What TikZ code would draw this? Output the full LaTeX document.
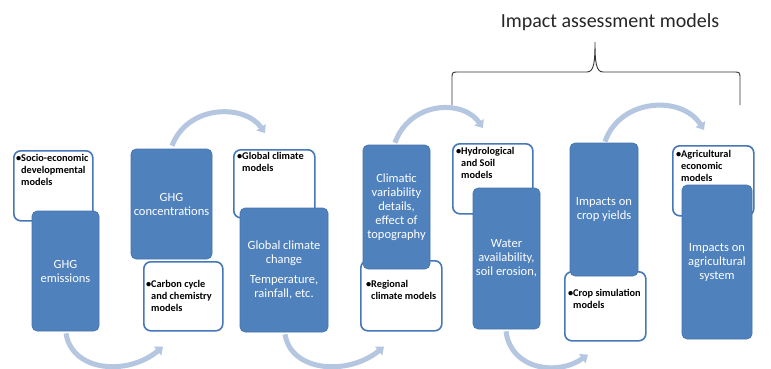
\documentclass[tikz,border=0pt]{standalone}
\usepackage{fontspec}
\setmainfont{Carlito}
\usetikzlibrary{arrows.meta}
\definecolor{boxblue}{HTML}{4F81BD}
\definecolor{edgeblue}{HTML}{4677B8}
\definecolor{arrowblue}{HTML}{B4C6E0}
\begin{document}
\begin{tikzpicture}[x=1pt,y=-1pt,
  bluebox/.style={rectangle, fill=boxblue, draw=boxblue!90!black, line width=0.6pt, rounded corners=5pt, inner sep=0pt, text=white, align=center, font=\fontsize{12.5}{14}\selectfont},
  whitebox/.style={rectangle, fill=white, draw=edgeblue, line width=1.6pt, rounded corners=7pt, inner sep=0pt, anchor=north west},
  wtext/.style={inner sep=0pt, anchor=north west, align=left, font=\bfseries\fontsize{10.3}{11.7}\selectfont, text=black},
  flowarrow/.style={draw=arrowblue, line width=5pt, -{Triangle[length=7pt,width=11pt]}},
  bracestyle/.style={draw=black!80, line width=0.9pt}
]
\useasboundingbox (0,0) rectangle (771,368);
\fill[white] (0,0) rectangle (771,368);

% white model boxes
\node[whitebox, minimum width=79pt, minimum height=70pt] (socio) at (13,150) {};
\node[whitebox, minimum width=79pt, minimum height=69pt] (carbon) at (143,261) {};
\node[whitebox, minimum width=81pt, minimum height=68pt] (gcm) at (233,149) {};
\node[whitebox, minimum width=81pt, minimum height=70pt] (rcm) at (360,260) {};
\node[whitebox, minimum width=80pt, minimum height=70pt] (hydro) at (452,143) {};
\node[whitebox, minimum width=81pt, minimum height=69pt] (crop) at (564,271) {};
\node[whitebox, minimum width=81pt, minimum height=70pt] (agecon) at (672,145) {};

% blue boxes
\node[bluebox, minimum width=67pt, minimum height=120pt] (emis) at (65.5,271) {GHG\\emissions};
\node[bluebox, minimum width=81pt, minimum height=110pt] (conc) at (171.5,204) {GHG\\concentrations};
\node[bluebox, minimum width=88pt, minimum height=124pt] (gcc) at (284,270) {Global climate\\change\\[6pt]Temperature,\\rainfall, etc.};
\node[bluebox, minimum width=67pt, minimum height=124pt] (clim) at (396.5,207) {Climatic\\variability\\details,\\effect of\\topography};
\node[bluebox, minimum width=67pt, minimum height=141pt] (water) at (506.5,258.5) {Water\\availability,\\soil erosion,};
\node[bluebox, minimum width=68pt, minimum height=133pt] (yield) at (604,209.5) {Impacts on\\crop yields};
\node[bluebox, minimum width=70pt, minimum height=154pt] (agsys) at (717,262) {Impacts on\\agricultural\\system};

% model texts
\node[wtext] (sociot) at (21,154.5) {\llap{•}Socio-economic\\developmental\\models};
\node[wtext] (carbont) at (151,280.5) {\llap{•}Carbon cycle\\and chemistry\\models};
\node[wtext] (gcmt) at (242,152.5) {\llap{•}Global climate\\models};
\node[wtext] (rcmt) at (371,280.5) {\llap{•}Regional\\climate models};
\node[wtext] (hydrot) at (461,147.5) {\llap{•}Hydrological\\and Soil\\models};
\node[wtext] (cropt) at (573,289.5) {\llap{•}Crop simulation\\models};
\node[wtext] (agecont) at (681,150.5) {\llap{•}Agricultural\\economic\\models};

% title and brace
\node[inner sep=0pt, font=\fontsize{20}{24}\selectfont, text=black!85] (title) at (610,22) {Impact assessment models};
\coordinate (bl) at (452,105);
\coordinate (br) at (740,105);
\coordinate (btip) at (595,42);
\draw[bracestyle] (bl) -- (452,79) .. controls (452,72) .. (459,72) -- (587,72)
  .. controls (594,72) and (595,62) .. (btip)
  .. controls (595,62) and (596,72) .. (603,72) -- (733,72)
  .. controls (740,72) .. (740,79) -- (br);

% connectors
\coordinate (a1s) at ([xshift=0.5pt,yshift=-2pt]emis.south);
\coordinate (a1e) at ([xshift=20pt,yshift=-15pt]carbon.south west);
\draw[flowarrow] (a1s) .. controls (72,372) and (128,376) .. (a1e);

\coordinate (a2s) at ([xshift=1pt,yshift=-2pt]gcc.south);
\coordinate (a2e) at ([xshift=24pt,yshift=-15pt]rcm.south west);
\draw[flowarrow] (a2s) .. controls (291,372) and (348,376) .. (a2e);

\coordinate (a3s) at ([xshift=-0.5pt,yshift=-2pt]water.south);
\coordinate (a3e) at ([xshift=24pt,yshift=-13pt]crop.south west);
\draw[flowarrow] (a3s) .. controls (511,370) and (558,376) .. (a3e);

\coordinate (tAs) at ([xshift=0.5pt,yshift=3pt]conc.north);
\coordinate (tAe) at ([xshift=32pt,yshift=16pt]gcm.north west);
\draw[flowarrow] (tAs) .. controls (188,104) and (245,104) .. (tAe);

\coordinate (tBs) at ([xshift=-1.5pt,yshift=2pt]clim.north);
\coordinate (tBe) at ([xshift=31pt,yshift=15pt]hydro.north west);
\draw[flowarrow] (tBs) .. controls (410,101) and (463,99) .. (tBe);

\coordinate (tCs) at ([xshift=1pt,yshift=1pt]yield.north);
\coordinate (tCe) at ([xshift=32pt,yshift=15pt]agecon.north west);
\draw[flowarrow] (tCs) .. controls (620,98) and (682,95) .. (tCe);
\end{tikzpicture}
\end{document}
